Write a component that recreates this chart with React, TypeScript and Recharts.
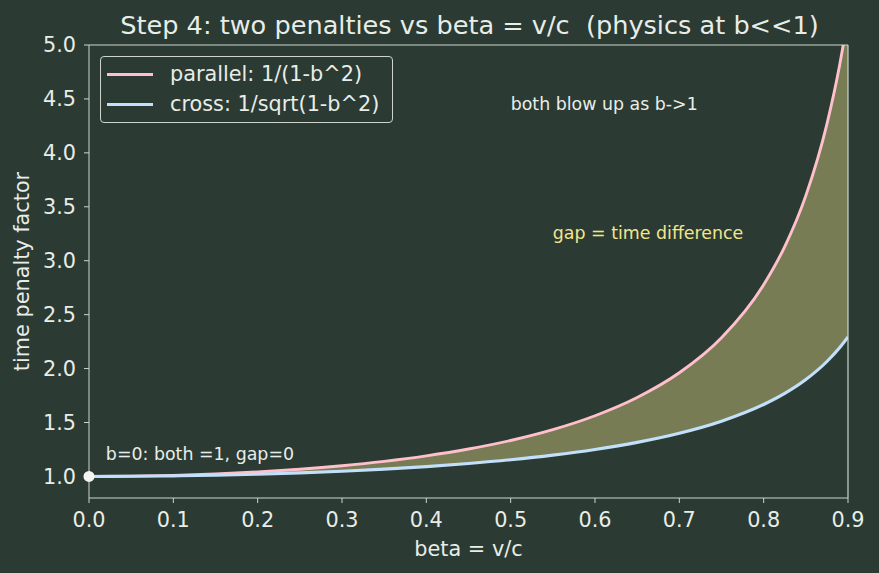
import { ComposedChart, Line, Area, XAxis, YAxis, ReferenceDot, ReferenceLine, Legend, Label } from 'recharts';

const BG = '#2b3a33';
const FG = '#e8ede8';
const SPINE = '#cdd5cd';
const PINK = '#ffc0cb';
const BLUE = '#c2e0fb';
const KHAKI = '#f0e68c';
const FONT = '"DejaVu Sans", sans-serif';

// beta values and both penalty curves
const beta = [0, 0.05, 0.1, 0.15, 0.2, 0.25, 0.3, 0.35, 0.4, 0.45, 0.5, 0.55, 0.6, 0.65, 0.7, 0.75, 0.8, 0.825, 0.85, 0.875, 0.89, 0.9];
const parallel = [1.0, 1.0025, 1.0101, 1.023, 1.0417, 1.0667, 1.0989, 1.1396, 1.1905, 1.2539, 1.3333, 1.4337, 1.5625, 1.7316, 1.9608, 2.2857, 2.7778, 3.131, 3.6036, 4.2667, 4.81, 5.2632];
const cross = [1.0, 1.0013, 1.005, 1.0114, 1.0206, 1.0328, 1.0483, 1.0675, 1.0911, 1.1198, 1.1547, 1.1974, 1.25, 1.3159, 1.4003, 1.5119, 1.6667, 1.7695, 1.8983, 2.0656, 2.1932, 2.2942];

const xTicks = [0, 0.1, 0.2, 0.3, 0.4, 0.5, 0.6, 0.7, 0.8, 0.9];
const yTicks = [1, 1.5, 2, 2.5, 3, 3.5, 4, 4.5, 5];

const data = beta.map((b, i) => ({
  b,
  parallel: parallel[i],
  cross: cross[i],
  gap: [cross[i], parallel[i]],
}));

const legendItems = [
  { name: 'parallel: 1/(1-b^2)', color: PINK },
  { name: 'cross: 1/sqrt(1-b^2)', color: BLUE },
];

const LegendBox = () => (
  <div style={{
    position: 'absolute', left: 100, top: 56, width: 293, height: 67,
    border: `1px solid ${SPINE}`, borderRadius: 4, boxSizing: 'border-box',
    fontFamily: FONT, fontSize: 20.8, color: FG,
  }}>
    {legendItems.map((it, i) => (
      <div key={it.name} style={{ position: 'absolute', left: 6, top: 4 + i * 30, height: 26, display: 'flex', alignItems: 'center' }}>
        <div style={{ width: 46, height: 3, background: it.color, marginRight: 17 }} />
        <span style={{ whiteSpace: 'pre', lineHeight: '26px' }}>{it.name}</span>
      </div>
    ))}
  </div>
);

const note = (text: string, color: string) => (p: any) => (
  <text x={p.cx} y={p.cy} fill={color} fontSize={17.4} fontFamily={FONT}>{text}</text>
);

export default function App() {
  return (
    <div style={{ position: 'absolute', left: 0, top: 0, width: 879, height: 573, background: BG }}>
      <div style={{
        position: 'absolute', left: 89, top: 11, width: 761, textAlign: 'center',
        fontFamily: FONT, fontSize: 25.6, lineHeight: '29px', color: FG, whiteSpace: 'pre',
      }}>
        Step 4: two penalties vs beta = v/c  (physics at b&lt;&lt;1)
      </div>
      <ComposedChart width={879} height={573} data={data} margin={{ top: 45, right: 31, bottom: 0, left: 0 }}>
        <XAxis
          dataKey="b" type="number" domain={[0, 0.9]} ticks={xTicks} allowDataOverflow
          tickFormatter={(v: number) => v.toFixed(1)} height={75}
          stroke={SPINE} tickSize={5} tickMargin={9}
          tick={{ fill: FG, fontSize: 20.8, fontFamily: FONT }}
        >
          <Label
            content={(p: any) => {
              const vb = p.viewBox;
              const cx = vb.x + vb.width / 2;
              return (
                <text x={cx} y={556} textAnchor="middle" fill={FG} fontSize={20.8} fontFamily={FONT}>beta = v/c</text>
              );
            }}
          />
        </XAxis>
        <YAxis
          type="number" domain={[0.8, 5]} ticks={yTicks} allowDataOverflow
          tickFormatter={(v: number) => v.toFixed(1)} width={89}
          stroke={SPINE} tickSize={5} tickMargin={8}
          tick={{ fill: FG, fontSize: 20.8, fontFamily: FONT }}
        >
          <Label
            content={(p: any) => {
              const vb = p.viewBox;
              const cy = vb.y + vb.height / 2;
              return (
                <text x={22} y={cy} transform={`rotate(-90, 22, ${cy})`} textAnchor="middle" dominantBaseline="central"
                  fill={FG} fontSize={20.8} fontFamily={FONT}>time penalty factor</text>
              );
            }}
          />
        </YAxis>
        <ReferenceLine y={5} stroke={SPINE} strokeWidth={1.2} />
        <ReferenceLine x={0.9} stroke={SPINE} strokeWidth={1.2} />
        <Area dataKey="gap" type="monotone" fill={KHAKI} fillOpacity={0.39} stroke="none" isAnimationActive={false} />
        <Line dataKey="parallel" type="monotone" stroke={PINK} strokeWidth={2.9} dot={false} isAnimationActive={false} />
        <Line dataKey="cross" type="monotone" stroke={BLUE} strokeWidth={3.1} dot={false} isAnimationActive={false} />
        <ReferenceDot x={0} y={1} r={5.5} fill="#f4f4f0" stroke="none" ifOverflow="visible" />
        <ReferenceDot x={0.5} y={4.4} r={0} ifOverflow="visible" shape={note('both blow up as b->1', FG)} />
        <ReferenceDot x={0.55} y={3.2} r={0} ifOverflow="visible" shape={note('gap = time difference', KHAKI)} />
        <ReferenceDot x={0.02} y={1.15} r={0} ifOverflow="visible" shape={note('b=0: both =1, gap=0', FG)} />
        <Legend content={() => <LegendBox />} wrapperStyle={{ position: 'absolute', left: 0, top: 0, width: 0, height: 0 }} />
      </ComposedChart>
    </div>
  );
}
